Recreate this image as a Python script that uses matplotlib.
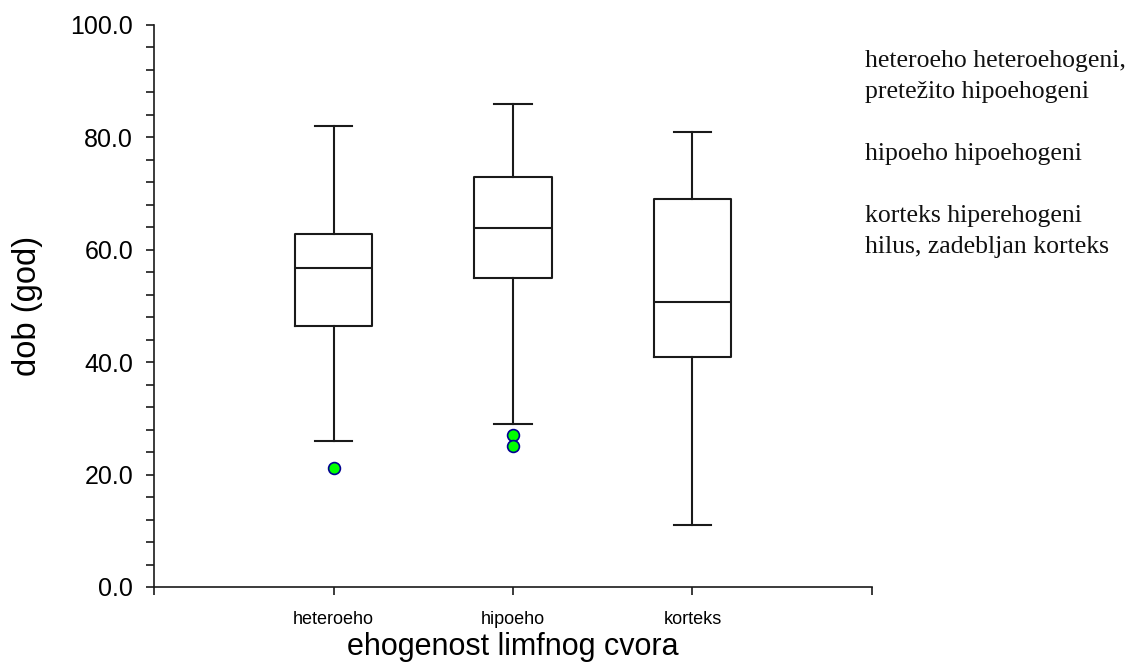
import matplotlib
matplotlib.use("Agg")
import matplotlib.pyplot as plt
from matplotlib.ticker import MultipleLocator, FormatStrFormatter

# values
categories = ["heteroeho", "hipoeho", "korteks"]
whisker_low = [26.0, 29.0, 11.0]
q1 = [46.4, 55.0, 41.0]
median = [56.7, 63.8, 50.7]
q3 = [62.9, 73.0, 69.0]
whisker_high = [82.0, 86.0, 81.0]
outliers = [[21.2], [27.0, 25.1], []]

legend_lines = ["heteroeho heteroehogeni,", "pretežito hipoehogeni", "",
                "hipoeho hipoehogeni", "",
                "korteks hiperehogeni", "hilus, zadebljan korteks"]

W, H = 1144, 664
fig = plt.figure(figsize=(W / 100, H / 100), dpi=100)
ax = fig.add_axes([154 / W, 1 - 587 / H, (872 - 154) / W, (587 - 25) / H])

stats = []
for i, name in enumerate(categories):
    stats.append(dict(label=name, whislo=whisker_low[i], q1=q1[i], med=median[i],
                      q3=q3[i], whishi=whisker_high[i], fliers=outliers[i]))

line = dict(color="#1a1a1a", linewidth=1.5)
ax.bxp(stats, positions=[1, 2, 3], widths=0.43, capwidths=0.21,
       boxprops=line, whiskerprops=line, capprops=line,
       medianprops=line,
       flierprops=dict(marker="o", markersize=8.5, markerfacecolor="#00ff00",
                       markeredgecolor="#000090", markeredgewidth=1.2,
                       linestyle="none"))

ax.set_xlim(0, 4)
ax.set_ylim(0, 100)
ax.set_xticks([0, 1, 2, 3, 4])
ax.set_xticklabels([""] + categories + [""], fontsize=13)
ax.yaxis.set_major_locator(MultipleLocator(20))
ax.yaxis.set_minor_locator(MultipleLocator(4))
ax.yaxis.set_major_formatter(FormatStrFormatter("%.1f"))

for side in ["top", "right"]:
    ax.spines[side].set_visible(False)
for side in ["left", "bottom"]:
    ax.spines[side].set_linewidth(1.2)
    ax.spines[side].set_color("#1a1a1a")

ax.tick_params(axis="y", which="both", direction="out", length=6, width=1.2,
               color="#1a1a1a", labelsize=18, pad=9)
ax.tick_params(axis="x", direction="out", length=6, width=1.2,
               color="#1a1a1a", pad=11)

ax.set_xlabel("ehogenost limfnog cvora", fontsize=22, labelpad=3)
ax.set_ylabel("dob (god)", fontsize=23.5, labelpad=20)

for lab in ax.get_xticklabels() + ax.get_yticklabels():
    lab.set_family("Liberation Sans")
ax.xaxis.label.set_family("Liberation Sans")
ax.yaxis.label.set_family("Liberation Sans")

# right-hand description text, one line every ~31 px
for k, txt in enumerate(legend_lines):
    if txt:
        fig.text(865 / W, 1 - (67 + 31 * k) / H, txt, family="Liberation Serif",
                 fontsize=18.5, va="baseline", ha="left", color="#111111")

fig.savefig("out.png", dpi=100)
